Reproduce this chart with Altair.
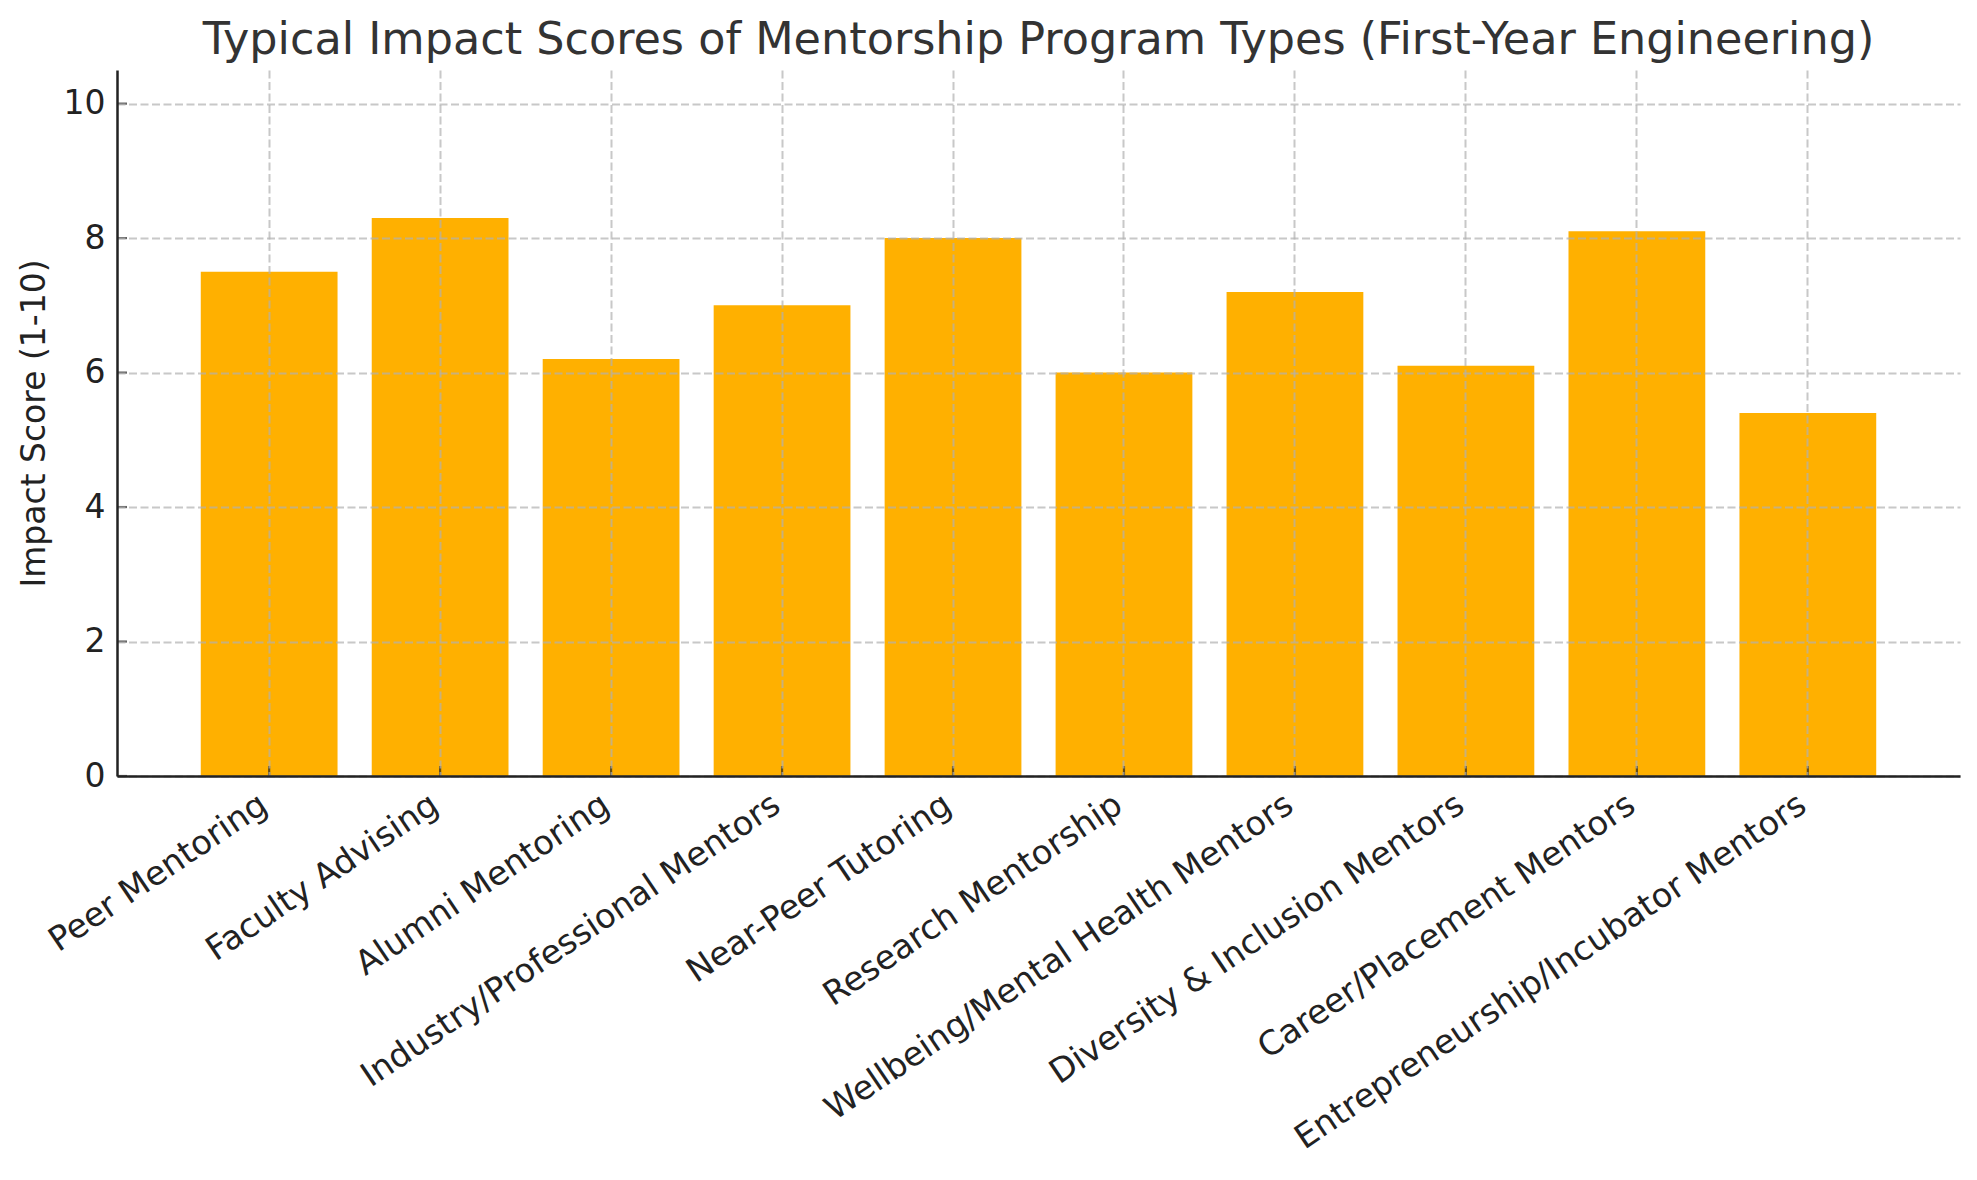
import altair as alt
import pandas as pd

programs = [
    "Peer Mentoring",
    "Faculty Advising",
    "Alumni Mentoring",
    "Industry/Professional Mentors",
    "Near-Peer Tutoring",
    "Research Mentorship",
    "Wellbeing/Mental Health Mentors",
    "Diversity & Inclusion Mentors",
    "Career/Placement Mentors",
    "Entrepreneurship/Incubator Mentors",
]
scores = [7.5, 8.3, 6.2, 7.0, 8.0, 6.0, 7.2, 6.1, 8.1, 5.4]
y_ticks = [0, 2, 4, 6, 8, 10]

df = pd.DataFrame({"program": programs, "score": scores})
df_yt = pd.DataFrame({"score": y_ticks})

FONT = "DejaVu Sans"
AXIS_COLOR = "#222222"
YDOMAIN = [0, 10.5]

xscale = alt.Scale(paddingInner=0.2, paddingOuter=0.49)
yscale = alt.Scale(domain=YDOMAIN, nice=False, zero=True)

grid_kw = dict(
    grid=True,
    gridColor="#b0b0b0",
    gridOpacity=0.7,
    gridDash=[8, 3.5],
    gridWidth=2,
    domainColor=AXIS_COLOR,
    domainWidth=2.5,
    ticks=False,
    labelFont=FONT,
    labelColor=AXIS_COLOR,
    zindex=1,
)

bars = alt.Chart(df).mark_bar(color="#FFB000").encode(
    x=alt.X(
        "program:N",
        sort=programs,
        scale=xscale,
        axis=alt.Axis(
            title=None,
            labelAngle=-34,
            labelAlign="right",
            labelBaseline="top",
            labelPadding=12,
            labelOffset=-14,
            labelFontSize=33.5,
            bandPosition=0.5,
            labelLimit=1000,
            **grid_kw,
        ),
    ),
    y=alt.Y(
        "score:Q",
        scale=yscale,
        axis=alt.Axis(
            title="Impact Score (1-10)",
            values=y_ticks,
            format="d",
            labelPadding=12,
            labelFontSize=33,
            titleFont=FONT,
            titleFontSize=33,
            titleFontWeight="normal",
            titleColor=AXIS_COLOR,
            titleX=-73,
            titleBaseline="alphabetic",
            **grid_kw,
        ),
    ),
)

xticks = alt.Chart(df).mark_tick(
    orient="vertical", size=10, thickness=2.2, color=AXIS_COLOR, yOffset=-5
).encode(
    x=alt.X("program:N", sort=programs, scale=xscale),
    y=alt.datum(0, scale=yscale),
)

yticks = alt.Chart(df_yt).mark_tick(
    orient="horizontal", size=10, thickness=2.2, color=AXIS_COLOR, xOffset=5
).encode(
    y=alt.Y("score:Q", scale=yscale),
    x=alt.value(0),
)

chart = alt.layer(bars, xticks, yticks).properties(
    width=1843,
    height=706,
    background="white",
    title=alt.TitleParams(
        "Typical Impact Scores of Mentorship Program Types (First-Year Engineering)",
        font=FONT,
        fontSize=44.5,
        fontWeight="normal",
        color="#333333",
        anchor="middle",
        baseline="bottom",
        offset=5,
        dy=42,
    ),
    autosize=alt.AutoSizeParams(type="none"),
    padding={"left": 109, "top": 62, "right": 9, "bottom": 390},
).configure_view(stroke=None)

chart.save("out.html", embed_options={"renderer": "svg", "actions": False})
